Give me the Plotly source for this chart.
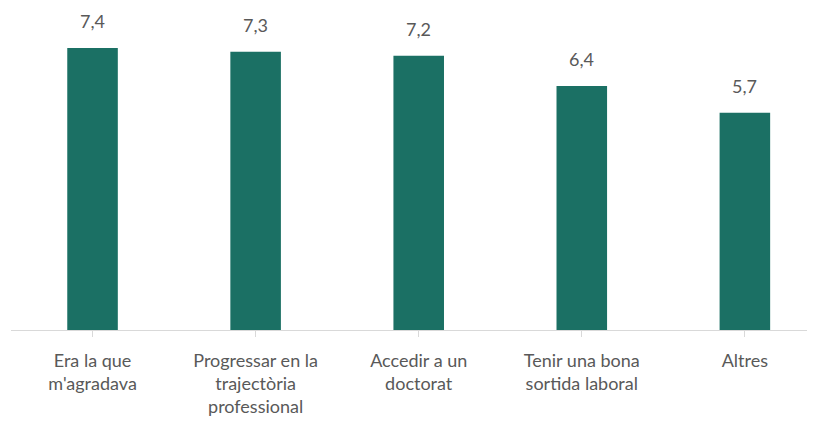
import plotly.graph_objects as go

categories = [
    "Era la que<br>m'agradava",
    "Progressar en la<br>trajectòria<br>professional",
    "Accedir a un<br>doctorat",
    "Tenir una bona<br>sortida laboral",
    "Altres",
]
values = [7.4, 7.3, 7.2, 6.4, 5.7]
labels = [f"{v:.1f}".replace(".", ",") for v in values]

BAR = "#1b7064"
GREY_TXT = "#595959"
AXIS = "#d9d9d9"
FONT = "Lato"

fig = go.Figure()
fig.add_trace(go.Bar(
    x=list(range(len(categories))),
    y=values,
    marker=dict(color=BAR, line=dict(width=0)),
    width=0.31,
    hoverinfo="skip",
))

for i, (v, t) in enumerate(zip(values, labels)):
    fig.add_annotation(
        x=i, y=v, text=t, showarrow=False,
        yanchor="bottom", yshift=14,
        font=dict(family=FONT, size=18, color=GREY_TXT),
    )

# page body has a default 8px margin, so the figure is 8px smaller
fig.update_layout(
    width=807, height=414,
    margin=dict(l=3, r=0, t=0, b=92, autoexpand=False),
    paper_bgcolor="white", plot_bgcolor="white",
    showlegend=False,
    font=dict(family=FONT, size=18, color=GREY_TXT),
)
fig.update_xaxes(
    tickmode="array",
    tickvals=list(range(len(categories))),
    ticktext=categories,
    range=[-0.5, 4.43],
    showline=True, linecolor=AXIS, linewidth=1,
    ticks="outside", tickson="boundaries", ticklen=6, tickcolor=AXIS,
    ticklabelstandoff=8,
    showgrid=False, zeroline=False,
    tickfont=dict(family=FONT, size=18, color=GREY_TXT),
    automargin=False,
)
fig.update_yaxes(
    range=[0, 8.45],
    visible=False, showgrid=False, zeroline=False,
)

fig.write_html("out.html")
